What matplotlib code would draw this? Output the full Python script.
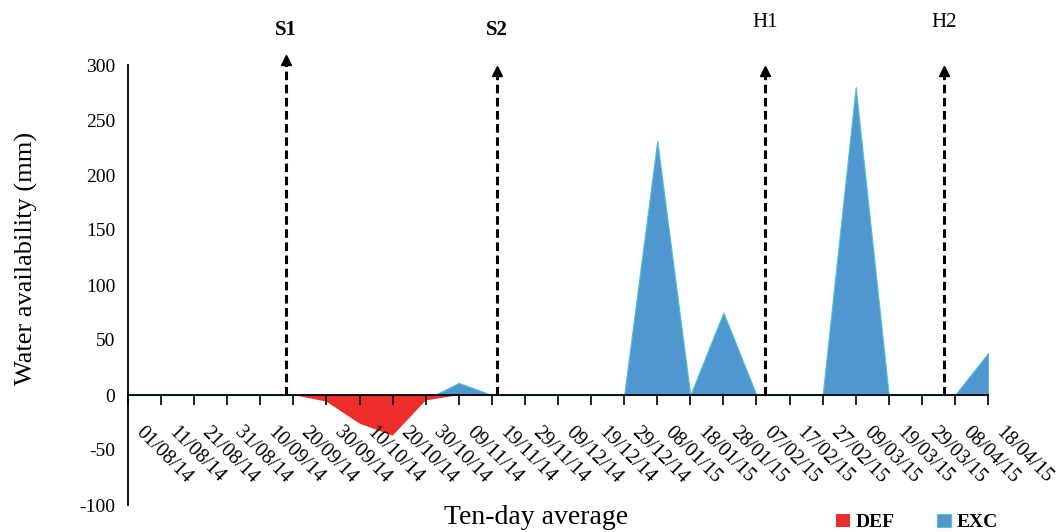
import matplotlib.pyplot as plt
from matplotlib.transforms import ScaledTranslation

plt.rcParams['font.family'] = ['Liberation Serif', 'DejaVu Serif']
plt.rcParams['axes.unicode_minus'] = False

# ten-day periods
dates = ['01/08/14', '11/08/14', '21/08/14', '31/08/14', '10/09/14', '20/09/14',
         '30/09/14', '10/10/14', '20/10/14', '30/10/14', '09/11/14', '19/11/14',
         '29/11/14', '09/12/14', '19/12/14', '29/12/14', '08/01/15', '18/01/15',
         '28/01/15', '07/02/15', '17/02/15', '27/02/15', '09/03/15', '19/03/15',
         '29/03/15', '08/04/15', '18/04/15']

# water deficit / excess (mm)
deficit = [0, 0, 0, 0, 0, 0, -6, -26, -37, -5, 0, 0, 0, 0, 0, 0, 0, 0,
           0, 0, 0, 0, 0, 0, 0, 0, 0]
excess = [0, 0, 0, 0, 0, 0, 0, 0, 0, -4, 11, 0, 0, 0, 0, 0, 231, 0,
          75, 0, 0, 0, 280, 0, 0, 0, 38]

# sowing / harvest markers (position on category axis)
event_names = ['S1', 'S2', 'H1', 'H2']
event_pos = [4.78, 11.16, 19.27, 24.67]
event_top = [309, 299, 299, 299]
event_bold = [True, True, False, False]

fig = plt.figure(figsize=(10.61, 5.32), dpi=100)
ax = fig.add_axes([128 / 1061, 27 / 532, 860 / 1061, 440 / 532])

x = list(range(len(dates)))
ax.fill_between(x, excess, 0, facecolor='#5096CF', edgecolor='#4CC3D6',
                linewidth=0.8, label='EXC')
ax.fill_between(x, deficit, 0, facecolor='#EE2D2D', edgecolor='none',
                linewidth=0, label='DEF')

for name, pos, top, bold in zip(event_names, event_pos, event_top, event_bold):
    ax.plot([pos, pos], [0, top - 8], color='black', linewidth=2.2,
            linestyle=(0, (2.8, 1.5)), clip_on=False, zorder=4)
    ax.plot(pos, top - 4, marker='^', color='black', markersize=7,
            clip_on=False, zorder=5)
    label_y = 332 if bold else 339
    ax.text(pos, label_y, name, ha='center', va='center', fontsize=15,
            fontweight='bold' if bold else 'normal', clip_on=False)

ax.set_xlim(0, len(dates) - 1)
ax.set_ylim(-100, 300)
ax.set_yticks(range(-100, 301, 50))
ax.tick_params(axis='y', length=0, pad=9, labelsize=14)

ax.spines['top'].set_visible(False)
ax.spines['right'].set_visible(False)
ax.spines['bottom'].set_position(('data', 0))
ax.spines['bottom'].set_linewidth(1.3)
ax.spines['left'].set_linewidth(1.3)

ax.set_xticks(x, dates, rotation=-45, ha='left', va='top',
              rotation_mode='anchor', fontsize=14.5)
ax.tick_params(axis='x', length=7, width=1.2, pad=13)
for lab in ax.get_xticklabels():
    lab.set_transform(lab.get_transform() + ScaledTranslation(0.17, 0, fig.dpi_scale_trans))

ax.set_ylabel('Water availability (mm)', fontsize=19)
ax.yaxis.set_label_coords(-0.105, 0.56)
ax.set_xlabel('Ten-day average', fontsize=20, va='top')
ax.xaxis.set_label_coords(0.474, 0.0)

handles, labels = ax.get_legend_handles_labels()
fig.legend(handles[::-1], labels[::-1], loc='center left',
           bbox_to_anchor=(836 / 1061, 0.018), ncol=2, frameon=False,
           handlelength=0.7, handleheight=0.7, handletextpad=0.3,
           columnspacing=2.2, borderpad=0, borderaxespad=0,
           prop={'weight': 'bold', 'size': 14})

fig.savefig('out.png', dpi=100)
